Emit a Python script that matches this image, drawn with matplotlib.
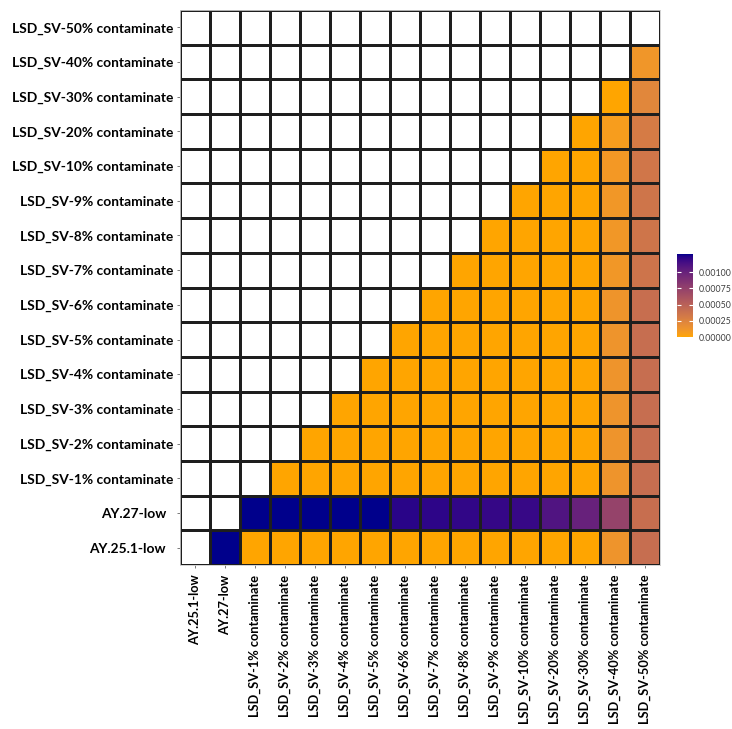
import numpy as np
import matplotlib.pyplot as plt
from matplotlib.colors import ListedColormap

# ---------------- data ----------------
labels = ['AY.25.1-low', 'AY.27-low',
          'LSD_SV-1% contaminate', 'LSD_SV-2% contaminate', 'LSD_SV-3% contaminate',
          'LSD_SV-4% contaminate', 'LSD_SV-5% contaminate', 'LSD_SV-6% contaminate',
          'LSD_SV-7% contaminate', 'LSD_SV-8% contaminate', 'LSD_SV-9% contaminate',
          'LSD_SV-10% contaminate', 'LSD_SV-20% contaminate', 'LSD_SV-30% contaminate',
          'LSD_SV-40% contaminate', 'LSD_SV-50% contaminate']

# row AY.25.1-low, columns AY.27-low .. LSD_SV-50%
ay25_row = [0.00128, 0, 0, 0, 0, 0, 0, 0, 0, 0, 0, 0, 0, 0.00013, 0.00041]
# row AY.27-low, columns LSD_SV-1% .. LSD_SV-50%
ay27_row = [0.00128, 0.00128, 0.00128, 0.00128, 0.00128, 0.00123, 0.00122,
            0.00121, 0.00120, 0.00119, 0.00110, 0.00100, 0.00074, 0.00040]
# LSD_SV-40% column, rows LSD_SV-1% .. LSD_SV-30%
col_40 = [0.00013, 0.00013, 0.00013, 0.00013, 0.00013, 0.00012,
          0.00010, 0.00010, 0.00010, 0.00009, 0.00006, 0.0]
# LSD_SV-50% column, rows LSD_SV-1% .. LSD_SV-40%
col_50 = [0.00041, 0.00041, 0.00041, 0.00041, 0.00041, 0.00040,
          0.00036, 0.00035, 0.00035, 0.00034, 0.00031, 0.00022, 0.00011]
# all other filled cells among LSD_SV-1% .. 30% are 0
cbar_ticks = [0, 0.00025, 0.0005, 0.00075, 0.001]
vmax = 0.00128

n = len(labels)
Z = np.full((n, n), np.nan)
Z[0, 1:] = ay25_row
Z[1, 2:] = ay27_row
for i in range(2, n):
    Z[i, i + 1:] = 0.0
Z[2:14, 14] = col_40
Z[2:15, 15] = col_50

# ---------------- colour scale (Lab interpolation, like ggplot) ----------------
M = np.array([[0.4124, 0.3576, 0.1805],
              [0.2126, 0.7152, 0.0722],
              [0.0193, 0.1192, 0.9505]])
WHITE = np.array([0.95047, 1.0, 1.08883])


def to_lab(rgb):
    c = np.asarray(rgb, float)
    lin = np.where(c <= 0.04045, c / 12.92, ((c + 0.055) / 1.055) ** 2.4)
    xyz = M @ lin / WHITE
    f = np.where(xyz > (6 / 29) ** 3, np.cbrt(xyz), xyz / (3 * (6 / 29) ** 2) + 4 / 29)
    return np.array([116 * f[1] - 16, 500 * (f[0] - f[1]), 200 * (f[1] - f[2])])


def from_lab(lab):
    L, a, b = lab
    fy = (L + 16) / 116
    f = np.array([fy + a / 500, fy, fy - b / 200])
    xyz = np.where(f > 6 / 29, f ** 3, 3 * (6 / 29) ** 2 * (f - 4 / 29)) * WHITE
    lin = np.clip(np.linalg.inv(M) @ xyz, 0, 1)
    c = np.where(lin <= 0.0031308, 12.92 * lin, 1.055 * lin ** (1 / 2.4) - 0.055)
    return np.clip(c, 0, 1)


lo = to_lab([1.0, 165 / 255, 0.0])      # orange
hi = to_lab([0.0, 0.0, 139 / 255])      # darkblue
cols = [from_lab(lo + t * (hi - lo)) for t in np.linspace(0, 1, 256)]
cmap = ListedColormap(cols)
cmap.set_bad('white')

# ---------------- plot ----------------
plt.rcParams['font.family'] = ['Lato', 'DejaVu Sans']
fig = plt.figure(figsize=(7.32, 7.29), dpi=100)
ax = fig.add_axes([180 / 732, 1 - 565 / 729, 480 / 732, 555 / 729])

mesh = ax.pcolormesh(np.ma.masked_invalid(Z), cmap=cmap, vmin=0, vmax=vmax,
                     edgecolors='#1e1e1e', linewidth=0.75)
ax.set_xlim(0, n)
ax.set_ylim(0, n)
ax.set_xticks(np.arange(n) + 0.5)
ax.set_yticks(np.arange(n) + 0.5)
ax.set_xticklabels(labels, rotation=90, fontsize=9.2, fontweight='bold')
ax.set_yticklabels(labels, fontsize=9.9, fontweight='bold')
for lab in ax.get_yticklabels()[:2]:
    lab.set_x(-0.015)
ax.tick_params(length=2, width=0.6, color='#666666', pad=3)
ax.tick_params(axis='x', pad=5)
for s in ax.spines.values():
    s.set_color('#cccccc')
    s.set_linewidth(0.6)

cax = fig.add_axes([677 / 732, 1 - 337 / 729, 16 / 732, 83 / 729])
cb = fig.colorbar(mesh, cax=cax, ticks=cbar_ticks)
cb.outline.set_visible(False)
cb.ax.set_yticklabels(['%.5f' % t for t in cbar_ticks])
cax.tick_params(left=True, right=True, direction='in', color='white',
                length=3, width=0.8, labelsize=6.3, labelcolor='#404040', pad=4)

fig.savefig('out.png', dpi=100)
